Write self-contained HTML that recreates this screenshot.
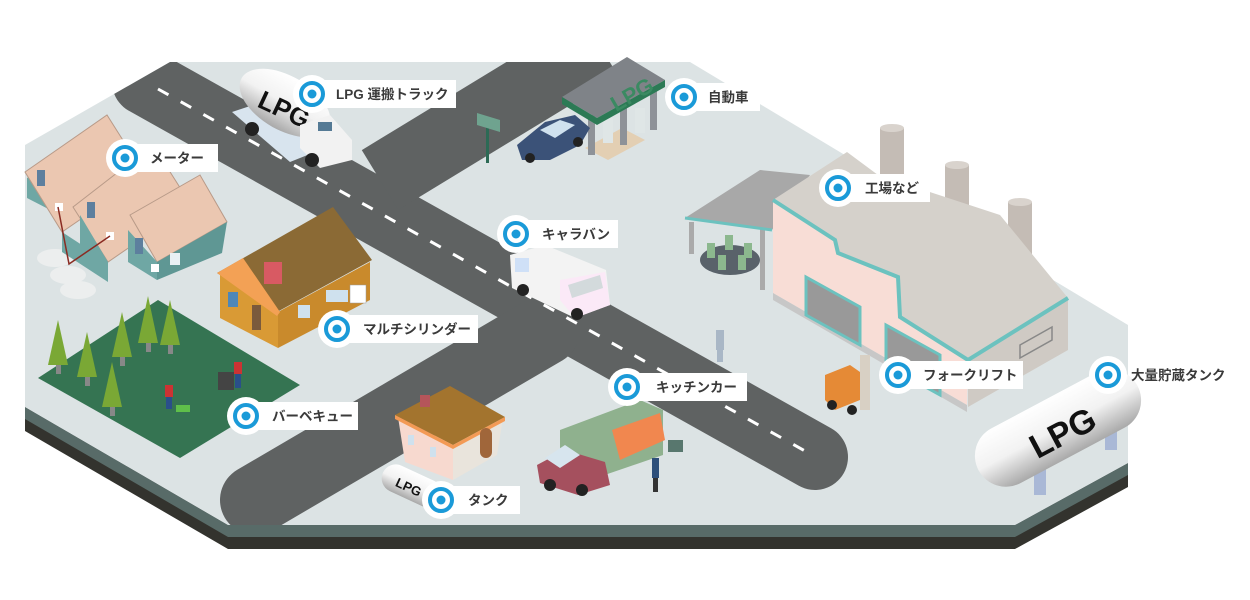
<!DOCTYPE html>
<html><head><meta charset="utf-8"><style>
html,body{margin:0;padding:0;background:#fff;}
svg{display:block;}
.lb{font-family:"Liberation Sans","Noto Sans CJK JP",sans-serif;font-size:13.5px;font-weight:bold;fill:#3a3a3a;}
</style></head><body>
<svg width="1250" height="600" viewBox="0 0 1250 600" xmlns="http://www.w3.org/2000/svg">
<defs>
<clipPath id="plat"><polygon points="170,62 690,62 1128,325 1128,463 1015,525 228,525 25,407 25,145"/></clipPath>
<linearGradient id="tank" x1="0" y1="0" x2="0" y2="1"><stop offset="0" stop-color="#ffffff"/><stop offset="0.5" stop-color="#f2f2f2"/><stop offset="1" stop-color="#a9a9a9"/></linearGradient>
</defs>
<polygon points="25,407 228,525 1015,525 1128,463 1128,487 1015,549 228,549 25,431" fill="#33332e"/>
<polygon points="25,407 228,525 1015,525 1128,463 1128,475 1015,537 228,537 25,419" fill="#586b68"/>
<polygon points="170,62 690,62 1128,325 1128,463 1015,525 228,525 25,407 25,145" fill="#dce3e4"/>
<g clip-path="url(#plat)">
<line x1="145" y1="82" x2="815" y2="457" stroke="#5f6262" stroke-width="66" stroke-linecap="round"/>
<line x1="380" y1="180" x2="600" y2="46" stroke="#5f6262" stroke-width="70"/>
<line x1="255" y1="500" x2="545" y2="330" stroke="#5f6262" stroke-width="70" stroke-linecap="round"/>
<line x1="158" y1="89" x2="805" y2="451" stroke="#fff" stroke-width="3" stroke-dasharray="12 14"/>
</g>
<polygon points="38,378 158,300 300,385 180,458" fill="#357452"/>
<g fill="#7aa835">
<rect x="56" y="360" width="5" height="14" fill="#888"/><polygon points="58,320 48,365 68,365"/>
<rect x="85" y="372" width="5" height="14" fill="#888"/><polygon points="87,332 77,377 97,377"/>
<rect x="120" y="352" width="5" height="14" fill="#888"/><polygon points="122,312 112,357 132,357"/>
<rect x="146" y="338" width="5" height="14" fill="#888"/><polygon points="148,296 138,343 158,343"/>
<rect x="168" y="340" width="5" height="14" fill="#888"/><polygon points="170,300 160,345 180,345"/>
<rect x="110" y="402" width="5" height="14" fill="#888"/><polygon points="112,362 102,407 122,407"/>
</g>
<rect x="165" y="385" width="8" height="12" fill="#c33"/><rect x="166" y="397" width="6" height="12" fill="#2a4f8a"/>
<rect x="176" y="405" width="14" height="7" fill="#5fbf4a"/>
<rect x="218" y="372" width="16" height="18" fill="#444"/><rect x="234" y="362" width="8" height="12" fill="#c33"/><rect x="235" y="374" width="6" height="14" fill="#2a4f8a"/>
<ellipse cx="55" cy="258" rx="18" ry="9" fill="#eceeee"/><ellipse cx="68" cy="275" rx="18" ry="9" fill="#eceeee"/><ellipse cx="78" cy="290" rx="18" ry="9" fill="#eceeee"/>
<g>
<polygon points="27,178 60,160 60,215 27,198" fill="#6fa7a4"/>
<polygon points="60,160 107,115 135,160 120,225 60,205" fill="#6a9f9c"/>
<polygon points="25,172 107,115 145,175 62,232" fill="#ebc7b1" stroke="#b89a88" stroke-width="1"/>
<polygon points="73,207 153,145 191,205 108,262" fill="#ebc7b1" stroke="#b89a88" stroke-width="1"/>
<polygon points="80,215 108,262 108,275 80,258" fill="#6fa7a4"/>
<polygon points="130,215 200,175 227,222 157,262" fill="#ebc7b1" stroke="#b89a88" stroke-width="1"/>
<polygon points="128,230 157,262 157,280 128,262" fill="#6fa7a4"/>
<polygon points="157,262 227,222 222,253 157,280" fill="#5f9794"/>
<polygon points="62,232 108,262 108,282 62,252" fill="#6fa7a4"/>
<rect x="37" y="170" width="8" height="16" fill="#5d7f9e"/><rect x="87" y="202" width="8" height="16" fill="#5d7f9e"/><rect x="135" y="238" width="8" height="16" fill="#5d7f9e"/>
<rect x="170" y="253" width="10" height="12" fill="#e8f0f4"/>
<rect x="55" y="203" width="8" height="8" fill="#fff"/><rect x="106" y="232" width="8" height="8" fill="#fff"/><rect x="151" y="264" width="8" height="8" fill="#fff"/>
<polyline points="58,207 69,264 110,236 M69,264 155,270" fill="none" stroke="#8a2b22" stroke-width="1.5"/>
</g>
<polygon points="220,275 243,260 278,312 278,348 220,318" fill="#d99a35"/>
<polygon points="278,312 370,262 370,300 278,348" fill="#c98a2c"/>
<polygon points="217,273 333,207 372,260 277,312" fill="#8b6a35"/>
<polygon points="217,273 243,258 280,312 277,316" fill="#f3a155"/>
<rect x="264" y="262" width="18" height="22" fill="#d85a63"/>
<rect x="228" y="292" width="10" height="15" fill="#4e87b8"/><rect x="252" y="305" width="9" height="25" fill="#7a5a3c"/>
<rect x="298" y="305" width="12" height="13" fill="#cfe1ee"/><rect x="326" y="290" width="22" height="12" fill="#cfe1ee"/>
<rect x="350" y="285" width="16" height="18" fill="#fff" stroke="#999" stroke-width="0.5"/>
<polygon points="232,112 292,92 345,140 290,162" fill="#d8e4ee"/>
<ellipse cx="285" cy="103" rx="50" ry="27" transform="rotate(30 285 103)" fill="url(#tank)"/>
<text x="258" y="112" transform="rotate(25 270 105)" font-family="Liberation Sans,sans-serif" font-weight="bold" font-size="26" fill="#111">LPG</text>
<polygon points="300,125 330,115 352,140 352,160 320,168 300,148" fill="#f2f2f2"/>
<rect x="318" y="122" width="14" height="9" fill="#557a95"/>
<circle cx="252" cy="129" r="7" fill="#222"/><circle cx="312" cy="160" r="7" fill="#222"/>
<polygon points="585,148 622,128 645,140 608,160" fill="#e3cfb3"/>
<rect x="588" y="115" width="7" height="40" fill="#8e9298"/><rect x="620" y="105" width="7" height="40" fill="#8e9298"/><rect x="650" y="90" width="7" height="40" fill="#8e9298"/>
<rect x="603" y="118" width="10" height="25" fill="#dfe6e6"/><rect x="635" y="108" width="10" height="25" fill="#dfe6e6"/>
<polygon points="562,97 627,57 665,80 597,118" fill="#7f8388"/>
<polygon points="562,97 597,118 597,125 562,104" fill="#2c7a55"/><polygon points="597,118 665,80 665,87 597,125" fill="#2c7a55"/>
<text x="608" y="108" transform="rotate(-30 620 95)" font-family="Liberation Sans,sans-serif" font-weight="bold" font-size="22" fill="#3b8a62">LPG</text>
<rect x="486" y="125" width="3" height="38" fill="#2c6a55"/><polygon points="477,113 500,120 500,132 477,125" fill="#6fa38f"/>
<polygon points="517,145 545,122 575,115 590,128 580,145 550,160 522,160" fill="#3b5278"/>
<polygon points="540,130 560,120 575,125 555,138" fill="#cfe1ee"/>
<circle cx="530" cy="158" r="5" fill="#222"/><circle cx="578" cy="142" r="5" fill="#222"/>
<polygon points="510,255 545,245 606,270 610,305 575,318 512,288" fill="#f3f3f3"/>
<polygon points="560,280 605,272 610,305 575,318 560,300" fill="#fbe9f7"/>
<polygon points="568,285 600,275 603,288 572,298" fill="#d3dadc"/>
<rect x="515" y="258" width="14" height="14" fill="#cfe0f7"/>
<circle cx="523" cy="290" r="6" fill="#222"/><circle cx="577" cy="314" r="6" fill="#222"/>
<rect x="689" y="222" width="5" height="32" fill="#aaa"/><rect x="760" y="228" width="5" height="62" fill="#aaa"/>
<ellipse cx="730" cy="260" rx="30" ry="15" fill="#59626a"/>
<g fill="#8cb88e"><rect x="707" y="243" width="8" height="15"/><rect x="725" y="235" width="8" height="15"/><rect x="744" y="243" width="8" height="15"/><rect x="718" y="255" width="8" height="15"/><rect x="738" y="255" width="8" height="15"/></g>
<polygon points="685,218 760,170 810,175 772,230" fill="#a8a8a8"/>
<line x1="685" y1="218" x2="772" y2="230" stroke="#6cc2bf" stroke-width="3"/>
<g fill="#c4bcb5"><rect x="880" y="128" width="24" height="60"/><rect x="945" y="165" width="24" height="70"/><rect x="1008" y="202" width="24" height="60"/></g>
<g fill="#d9d3cd"><ellipse cx="892" cy="128" rx="12" ry="4"/><ellipse cx="957" cy="165" rx="12" ry="4"/><ellipse cx="1020" cy="202" rx="12" ry="4"/></g>
<polygon points="773,200 835,240 838,253 898,277 900,317 968,360 967,405 773,293" fill="#f8ddd6"/>
<polygon points="773,293 967,405 967,412 773,300" fill="#c7c7c7"/>
<polygon points="968,360 1068,298 1068,350 968,407" fill="#cfcac4"/>
<polygon points="773,200 847,152 878,175 1000,215 1068,298 968,360 900,317 898,277 838,253 835,240" fill="#d5d1cb"/>
<polyline points="773,200 835,240 838,253 898,277 900,317 968,360 1068,298" fill="none" stroke="#6cc2bf" stroke-width="4"/>
<polygon points="806,277 860,307 860,345 806,315" fill="#999" stroke="#6cc2bf" stroke-width="3"/>
<polygon points="886,325 940,355 940,395 886,365" fill="#999" stroke="#6cc2bf" stroke-width="3"/>
<polygon points="1020,345 1052,327 1052,340 1020,358" fill="none" stroke="#888" stroke-width="1.5"/>
<rect x="860" y="355" width="10" height="55" fill="#d8d0c4"/>
<polygon points="825,375 850,365 860,372 860,400 835,410 825,400" fill="#e58a36"/>
<circle cx="832" cy="405" r="5" fill="#222"/><circle cx="852" cy="410" r="5" fill="#222"/>
<rect x="716" y="330" width="8" height="20" fill="#a9b7c6"/><rect x="717" y="350" width="6" height="12" fill="#a9b7c6"/>
<polygon points="560,430 640,400 663,410 663,455 590,480 560,465" fill="#8fb18e"/>
<polygon points="612,430 660,413 665,440 620,460" fill="#f1874f"/>
<polygon points="537,465 565,450 605,462 610,485 578,495 540,483" fill="#a5505e"/>
<polygon points="545,458 565,445 580,455 560,468" fill="#d7e5ee"/>
<circle cx="550" cy="485" r="6" fill="#222"/><circle cx="582" cy="490" r="6" fill="#222"/>
<rect x="668" y="440" width="15" height="12" fill="#58776e"/>
<rect x="652" y="458" width="7" height="20" fill="#2d4f7a"/><rect x="653" y="478" width="5" height="14" fill="#333"/>
<polygon points="398,417 453,445 453,480 405,462" fill="#f7d9cf"/>
<polygon points="453,445 503,418 497,455 453,480" fill="#e9e4dc"/>
<polygon points="395,415 450,386 505,417 453,445" fill="#a3742e"/>
<polygon points="395,415 453,445 505,417 505,421 453,449 395,419" fill="#f39a55"/>
<rect x="420" y="395" width="10" height="12" fill="#b5555a"/>
<rect x="480" y="428" width="12" height="30" rx="6" fill="#a0663a"/>
<rect x="408" y="435" width="6" height="10" fill="#cfe1ee"/><rect x="430" y="447" width="6" height="10" fill="#cfe1ee"/>
<rect x="380" y="472" width="64" height="28" rx="14" transform="rotate(25 412 486)" fill="url(#tank)"/>
<text x="396" y="493" transform="rotate(25 412 486)" font-family="Liberation Sans,sans-serif" font-weight="bold" font-size="13" fill="#111">LPG</text>
<rect x="1105" y="420" width="12" height="30" fill="#a9b8d6"/><rect x="1034" y="465" width="12" height="30" fill="#a9b8d6"/>
<rect x="968" y="397" width="180" height="62" rx="31" transform="rotate(-28 1058 428)" fill="url(#tank)"/>
<text x="1025" y="446" transform="rotate(-28 1058 428)" font-family="Liberation Sans,sans-serif" font-weight="bold" font-size="34" fill="#111">LPG</text>
<g>
<rect x="312" y="80" width="144" height="28" fill="#fff"/><circle cx="312" cy="94" r="19" fill="#fff"/><circle cx="312" cy="94" r="11" fill="none" stroke="#1a9ad8" stroke-width="4"/><circle cx="312" cy="94" r="4.5" fill="#1a9ad8"/><text class="lb" x="336" y="99">LPG 運搬トラック</text>
<rect x="684" y="83" width="76" height="28" fill="#fff"/><circle cx="684" cy="97" r="19" fill="#fff"/><circle cx="684" cy="97" r="11" fill="none" stroke="#1a9ad8" stroke-width="4"/><circle cx="684" cy="97" r="4.5" fill="#1a9ad8"/><text class="lb" x="708" y="102">自動車</text>
<rect x="125" y="144" width="93" height="28" fill="#fff"/><circle cx="125" cy="158" r="19" fill="#fff"/><circle cx="125" cy="158" r="11" fill="none" stroke="#1a9ad8" stroke-width="4"/><circle cx="125" cy="158" r="4.5" fill="#1a9ad8"/><text class="lb" x="150" y="163">メーター</text>
<rect x="838" y="174" width="92" height="28" fill="#fff"/><circle cx="838" cy="188" r="19" fill="#fff"/><circle cx="838" cy="188" r="11" fill="none" stroke="#1a9ad8" stroke-width="4"/><circle cx="838" cy="188" r="4.5" fill="#1a9ad8"/><text class="lb" x="865" y="193">工場など</text>
<rect x="516" y="220" width="102" height="28" fill="#fff"/><circle cx="516" cy="234" r="19" fill="#fff"/><circle cx="516" cy="234" r="11" fill="none" stroke="#1a9ad8" stroke-width="4"/><circle cx="516" cy="234" r="4.5" fill="#1a9ad8"/><text class="lb" x="542" y="239">キャラバン</text>
<rect x="337" y="315" width="141" height="28" fill="#fff"/><circle cx="337" cy="329" r="19" fill="#fff"/><circle cx="337" cy="329" r="11" fill="none" stroke="#1a9ad8" stroke-width="4"/><circle cx="337" cy="329" r="4.5" fill="#1a9ad8"/><text class="lb" x="363" y="334">マルチシリンダー</text>
<rect x="627" y="373" width="120" height="28" fill="#fff"/><circle cx="627" cy="387" r="19" fill="#fff"/><circle cx="627" cy="387" r="11" fill="none" stroke="#1a9ad8" stroke-width="4"/><circle cx="627" cy="387" r="4.5" fill="#1a9ad8"/><text class="lb" x="656" y="392">キッチンカー</text>
<rect x="898" y="361" width="125" height="28" fill="#fff"/><circle cx="898" cy="375" r="19" fill="#fff"/><circle cx="898" cy="375" r="11" fill="none" stroke="#1a9ad8" stroke-width="4"/><circle cx="898" cy="375" r="4.5" fill="#1a9ad8"/><text class="lb" x="923" y="380">フォークリフト</text>
<circle cx="1108" cy="375" r="19" fill="#fff"/><circle cx="1108" cy="375" r="11" fill="none" stroke="#1a9ad8" stroke-width="4"/><circle cx="1108" cy="375" r="4.5" fill="#1a9ad8"/><text class="lb" x="1131" y="380">大量貯蔵タンク</text>
<rect x="246" y="402" width="112" height="28" fill="#fff"/><circle cx="246" cy="416" r="19" fill="#fff"/><circle cx="246" cy="416" r="11" fill="none" stroke="#1a9ad8" stroke-width="4"/><circle cx="246" cy="416" r="4.5" fill="#1a9ad8"/><text class="lb" x="272" y="421">バーベキュー</text>
<rect x="441" y="486" width="79" height="28" fill="#fff"/><circle cx="441" cy="500" r="19" fill="#fff"/><circle cx="441" cy="500" r="11" fill="none" stroke="#1a9ad8" stroke-width="4"/><circle cx="441" cy="500" r="4.5" fill="#1a9ad8"/><text class="lb" x="468" y="505">タンク</text>
</g>
</svg>
</body></html>
